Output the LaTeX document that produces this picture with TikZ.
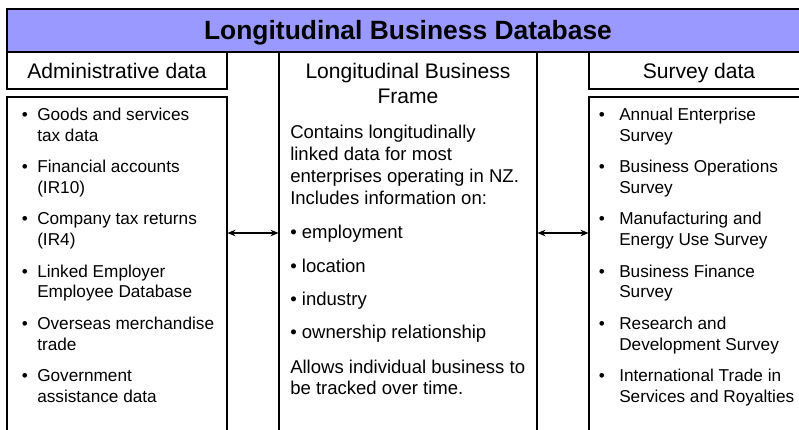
\documentclass[tikz,border=0pt]{standalone}
\usepackage{fontspec}
\setmainfont{Liberation Sans}
\usetikzlibrary{arrows.meta}
\definecolor{titleblue}{RGB}{153,153,255}
\tikzset{
  box/.style={draw, line width=0.8pt, fill=white, rectangle, inner sep=0pt},
  txt/.style={inner sep=0pt, anchor=base west},
  lst/.style={txt, font=\fontsize{12.9}{15}\selectfont},
  bul/.style={inner sep=0pt, anchor=base, font=\fontsize{12.9}{15}\selectfont},
  mtx/.style={txt, font=\fontsize{13.9}{16}\selectfont},
  hdr/.style={inner sep=0pt, anchor=base, font=\fontsize{15.8}{19}\selectfont},
  ttl/.style={inner sep=0pt, anchor=base, font=\fontsize{19.8}{24}\selectfont\bfseries},
  link/.style={line width=0.8pt, {Stealth[length=6pt,width=5pt]}-{Stealth[length=6pt,width=5pt]}}
}
\begin{document}
\begin{tikzpicture}[x=0.75pt, y=-0.75pt]
\useasboundingbox (0,0) rectangle (799,429);
\fill[white] (0,0) rectangle (799,429);
\clip (0,0) rectangle (799,429);
% frames
\node[box, fill=titleblue, minimum width=601.5pt, minimum height=32.25pt] (bar) at (408,30.5) {};
\node[box, minimum width=193.5pt, minimum height=291pt] (mid) at (408,246) {};
\node[box, minimum width=165pt, minimum height=27.75pt] (admhead) at (117,70.5) {};
\node[box, minimum width=165pt, minimum height=27.75pt] (survhead) at (699,70.5) {};
\node[box, minimum width=165pt, minimum height=257.25pt] (admlist) at (117,268.5) {};
\node[box, minimum width=165pt, minimum height=257.25pt] (survlist) at (699,268.5) {};
% title and headers
\node[ttl] (title) at (408,39) {Longitudinal Business Database};
\node[hdr] (admtxt) at (117,78) {Administrative data};
\node[hdr] (survtxt) at (699,78) {Survey data};
\node[hdr] (midtxt1) at (408,78) {Longitudinal Business};
\node[hdr] (midtxt2) at (408,103) {Frame};
% left list
\foreach \i/\a/\b in {1/{Goods and services}/{tax data},
                      2/{Financial accounts}/{(IR10)},
                      3/{Company tax returns}/{(IR4)},
                      4/{Linked Employer}/{Employee Database},
                      5/{Overseas merchandise}/{trade},
                      6/{Government}/{assistance data}}{
  \pgfmathsetmacro\yy{120.5+(\i-1)*52.2}
  \node[bul] (lb\i) at (25,\yy) {•};
  \node[lst] (la\i) at (37,\yy) {\a};
  \node[lst] (lc\i) at (37,\yy+20.8) {\b};
}
% right list
\foreach \i/\a/\b in {1/{Annual Enterprise}/{Survey},
                      2/{Business Operations}/{Survey},
                      3/{Manufacturing and}/{Energy Use Survey},
                      4/{Business Finance}/{Survey},
                      5/{Research and}/{Development Survey},
                      6/{International Trade in}/{Services and Royalties}}{
  \pgfmathsetmacro\yy{120.5+(\i-1)*52.2}
  \node[bul] (rb\i) at (602,\yy) {•};
  \node[lst] (ra\i) at (619,\yy) {\a};
  \node[lst] (rc\i) at (619,\yy+20.8) {\b};
}
% middle text
\node[mtx] (m1) at (290,138) {Contains longitudinally};
\node[mtx] (m2) at (290,160) {linked data for most};
\node[mtx] (m3) at (290,182) {enterprises operating in NZ.};
\node[mtx] (m4) at (290,204) {Includes information on:};
\node[mtx] (m5) at (290,238) {• employment};
\node[mtx] (m6) at (290,272) {• location};
\node[mtx] (m7) at (290,305) {• industry};
\node[mtx] (m8) at (290,338) {• ownership relationship};
\node[mtx] (m9) at (290,373) {Allows individual business to};
\node[mtx] (m10) at (290,394) {be tracked over time.};
% connectors
\coordinate (ay) at (0,233);
\draw[link] (admlist.east |- ay) -- (mid.west |- ay);
\draw[link] (mid.east |- ay) -- (survlist.west |- ay);
\end{tikzpicture}
\end{document}
